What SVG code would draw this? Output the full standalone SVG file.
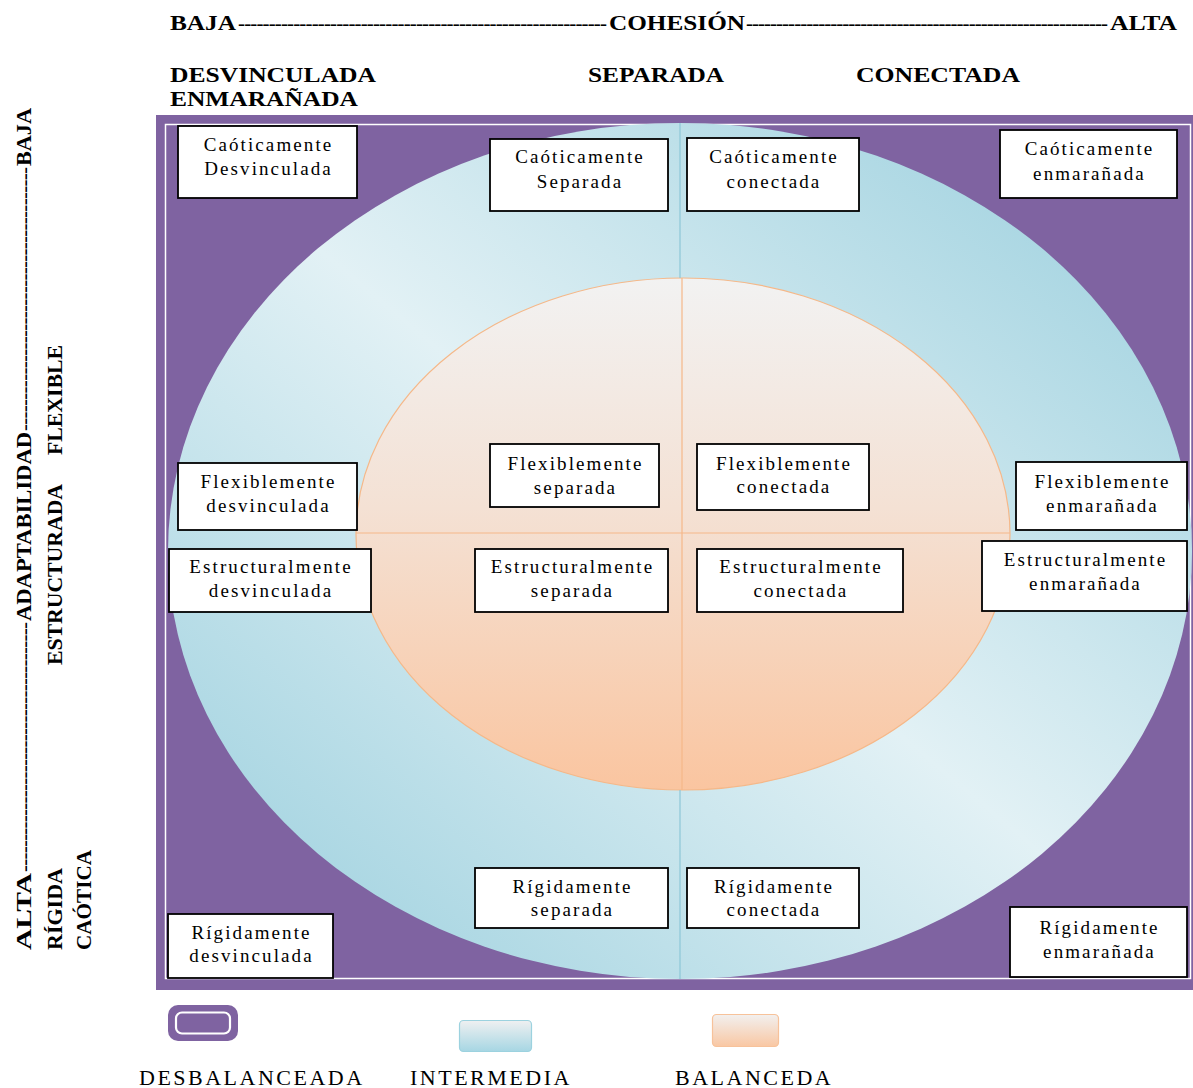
<svg xmlns="http://www.w3.org/2000/svg" width="1193" height="1088" viewBox="0 0 1193 1088">
<style>
.hd{font-family:"Liberation Serif","Times New Roman",serif;font-weight:bold;font-size:21px;fill:#000}
.bx{fill:#fff;stroke:#000;stroke-width:1.8}
.bt{font-family:"Liberation Serif","Times New Roman",serif;font-size:19px;letter-spacing:2.1px;fill:#000;text-anchor:middle}
.lg{font-family:"Liberation Serif","Times New Roman",serif;font-size:22px;letter-spacing:2.5px;fill:#000}
</style>
<defs>
<linearGradient id="blueG" x1="1" y1="0" x2="0" y2="1">
<stop offset="0" stop-color="#96cddc"/>
<stop offset="0.5" stop-color="#e2f1f5"/>
<stop offset="1" stop-color="#96cddc"/>
</linearGradient>
<linearGradient id="orangeG" x1="0" y1="0" x2="0" y2="1">
<stop offset="0" stop-color="#f2f2f2"/>
<stop offset="0.45" stop-color="#f4e1d4"/>
<stop offset="1" stop-color="#fac5a0"/>
</linearGradient>
<linearGradient id="legBlue" x1="0" y1="0" x2="0" y2="1">
<stop offset="0" stop-color="#eff0f1"/>
<stop offset="1" stop-color="#a6d6e3"/>
</linearGradient>
<linearGradient id="legOrange" x1="0" y1="0" x2="0" y2="1">
<stop offset="0" stop-color="#f2f0ef"/>
<stop offset="1" stop-color="#f9c7a3"/>
</linearGradient>
</defs>
<rect width="1193" height="1088" fill="#fff"/>

<!-- header -->
<g id="header">
<text class="hd" x="170" y="30" textLength="66" lengthAdjust="spacingAndGlyphs">BAJA</text>
<text class="hd" x="238" y="30" textLength="369" lengthAdjust="spacing" style="font-weight:normal">------------------------------------------------------------</text>
<text class="hd" x="609" y="30" textLength="136" lengthAdjust="spacingAndGlyphs">COHESIÓN</text>
<text class="hd" x="746" y="30" textLength="362" lengthAdjust="spacing" style="font-weight:normal">------------------------------------------------------------</text>
<text class="hd" x="1110" y="30" textLength="67" lengthAdjust="spacingAndGlyphs">ALTA</text>
<text class="hd" x="170" y="82" textLength="206" lengthAdjust="spacingAndGlyphs">DESVINCULADA</text>
<text class="hd" x="170" y="106" textLength="188" lengthAdjust="spacingAndGlyphs">ENMARAÑADA</text>
<text class="hd" x="588" y="82" textLength="136" lengthAdjust="spacingAndGlyphs">SEPARADA</text>
<text class="hd" x="856" y="82" textLength="164" lengthAdjust="spacingAndGlyphs">CONECTADA</text>
</g>

<!-- vertical axis -->
<g id="axis-left">
<text class="hd" transform="translate(31,950) rotate(-90)" textLength="77" lengthAdjust="spacingAndGlyphs">ALTA</text>
<text class="hd" transform="translate(31,872) rotate(-90)" textLength="250" lengthAdjust="spacing" style="font-weight:normal">----------------------------------------</text>
<text class="hd" transform="translate(31,621) rotate(-90)" textLength="189" lengthAdjust="spacingAndGlyphs">ADAPTABILIDAD</text>
<text class="hd" transform="translate(31,431) rotate(-90)" textLength="264" lengthAdjust="spacing" style="font-weight:normal">------------------------------------------</text>
<text class="hd" transform="translate(31,166) rotate(-90)" textLength="58" lengthAdjust="spacingAndGlyphs">BAJA</text>
<text class="hd" transform="translate(62,950) rotate(-90)" textLength="82" lengthAdjust="spacingAndGlyphs">RÍGIDA</text>
<text class="hd" transform="translate(62,665) rotate(-90)" textLength="181" lengthAdjust="spacingAndGlyphs">ESTRUCTURADA</text>
<text class="hd" transform="translate(62,455) rotate(-90)" textLength="110" lengthAdjust="spacingAndGlyphs">FLEXIBLE</text>
<text class="hd" transform="translate(91,950) rotate(-90)" textLength="100" lengthAdjust="spacingAndGlyphs">CAÓTICA</text>
</g>

<!-- background frame & ellipses -->
<g id="frame">
<rect x="156" y="115" width="1045" height="875" fill="#7f63a1"/>
<rect x="165.5" y="124.5" width="1025" height="854" fill="none" stroke="#ffffff" stroke-width="1.5"/>
<ellipse cx="680" cy="551" rx="512" ry="428" fill="url(#blueG)"/>
<ellipse cx="683" cy="534" rx="327" ry="256" fill="url(#orangeG)" stroke="#f5b889" stroke-width="1.2"/>
</g>

<g id="dividers">
<line x1="680" y1="123" x2="680" y2="278" stroke="#8dc7d7" stroke-width="1.2"/>
<line x1="680" y1="790" x2="680" y2="979" stroke="#8dc7d7" stroke-width="1.2"/>
<line x1="682" y1="278" x2="682" y2="790" stroke="#f5b889" stroke-width="1.2"/>
<line x1="356" y1="533" x2="1010" y2="533" stroke="#f5b889" stroke-width="1.2"/>
</g>

<!-- nodes -->
<g id="n-caot-desv"><rect class="bx" x="178" y="126" width="179" height="72"/><text class="bt" x="268.5" y="151">Caóticamente</text><text class="bt" x="268.5" y="175">Desvinculada</text></g>
<g id="n-caot-sep"><rect class="bx" x="490" y="139" width="178" height="72"/><text class="bt" x="580" y="163">Caóticamente</text><text class="bt" x="580" y="188">Separada</text></g>
<g id="n-caot-con"><rect class="bx" x="687" y="138" width="172" height="73"/><text class="bt" x="774" y="163">Caóticamente</text><text class="bt" x="774" y="188">conectada</text></g>
<g id="n-caot-enm"><rect class="bx" x="1000" y="130" width="177" height="68"/><text class="bt" x="1089.5" y="155">Caóticamente</text><text class="bt" x="1089.5" y="180">enmarañada</text></g>

<g id="n-flex-desv"><rect class="bx" x="178" y="463" width="179" height="67"/><text class="bt" x="268.5" y="488">Flexiblemente</text><text class="bt" x="268.5" y="512">desvinculada</text></g>
<g id="n-flex-sep"><rect class="bx" x="490" y="444" width="169" height="63"/><text class="bt" x="575.5" y="470">Flexiblemente</text><text class="bt" x="575.5" y="494">separada</text></g>
<g id="n-flex-con"><rect class="bx" x="697" y="444" width="172" height="66"/><text class="bt" x="784" y="470">Flexiblemente</text><text class="bt" x="784" y="493">conectada</text></g>
<g id="n-flex-enm"><rect class="bx" x="1016" y="462" width="171" height="68"/><text class="bt" x="1102.5" y="488">Flexiblemente</text><text class="bt" x="1102.5" y="512">enmarañada</text></g>

<g id="n-est-desv"><rect class="bx" x="169" y="549" width="202" height="63"/><text class="bt" x="271" y="573">Estructuralmente</text><text class="bt" x="271" y="597">desvinculada</text></g>
<g id="n-est-sep"><rect class="bx" x="475" y="549" width="193" height="63"/><text class="bt" x="572.5" y="573">Estructuralmente</text><text class="bt" x="572.5" y="597">separada</text></g>
<g id="n-est-con"><rect class="bx" x="697" y="549" width="206" height="63"/><text class="bt" x="801" y="573">Estructuralmente</text><text class="bt" x="801" y="597">conectada</text></g>
<g id="n-est-enm"><rect class="bx" x="982" y="541" width="205" height="70"/><text class="bt" x="1085.5" y="566">Estructuralmente</text><text class="bt" x="1085.5" y="590">enmarañada</text></g>

<g id="n-rig-sep"><rect class="bx" x="475" y="868" width="193" height="60"/><text class="bt" x="572.5" y="893">Rígidamente</text><text class="bt" x="572.5" y="916">separada</text></g>
<g id="n-rig-con"><rect class="bx" x="687" y="868" width="172" height="60"/><text class="bt" x="774" y="893">Rígidamente</text><text class="bt" x="774" y="916">conectada</text></g>
<g id="n-rig-desv"><rect class="bx" x="168" y="914" width="165" height="64"/><text class="bt" x="251.5" y="939">Rígidamente</text><text class="bt" x="251.5" y="962">desvinculada</text></g>
<g id="n-rig-enm"><rect class="bx" x="1010" y="907" width="177" height="70"/><text class="bt" x="1099.5" y="934">Rígidamente</text><text class="bt" x="1099.5" y="958">enmarañada</text></g>

<!-- legend -->
<g id="legend-desbalanceada">
<rect x="168" y="1005" width="70" height="36" rx="10" fill="#7f63a1"/>
<rect x="176" y="1012.5" width="54" height="21" rx="6" fill="#7f63a1" stroke="#ffffff" stroke-width="2.2"/>
<text class="lg" x="139" y="1085">DESBALANCEADA</text>
</g>
<g id="legend-intermedia">
<rect x="459.5" y="1020.5" width="72" height="31" rx="4" fill="url(#legBlue)" stroke="#9cd2df" stroke-width="1.2"/>
<text class="lg" x="410" y="1085">INTERMEDIA</text>
</g>
<g id="legend-balanceda">
<rect x="712.5" y="1014.5" width="66" height="32" rx="4" fill="url(#legOrange)" stroke="#f7c29a" stroke-width="1.2"/>
<text class="lg" x="675" y="1085">BALANCEDA</text>
</g>
</svg>
